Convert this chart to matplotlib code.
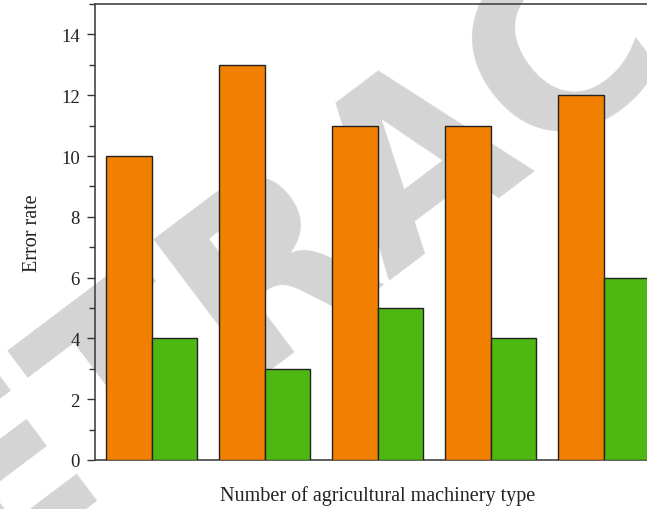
import matplotlib
matplotlib.use("Agg")
import matplotlib.pyplot as plt
import numpy as np
from matplotlib.ticker import MultipleLocator

plt.rcParams["font.family"] = ["Liberation Serif", "DejaVu Serif"]

types = [1, 2, 3, 4, 5]
series_a = [10, 13, 11, 11, 12]   # orange
series_b = [4, 3, 5, 4, 6]        # green

ORANGE = "#F28000"
GREEN = "#4DB812"

fig = plt.figure(figsize=(6.47, 5.10), dpi=100)

# watermark behind the axes
fig.text(0.65, 0.69, "RETRACTED", fontsize=172, fontweight="bold",
         family="DejaVu Sans", color="#d4d4d4", rotation=37,
         ha="center", va="center", zorder=-5)

ax = fig.add_axes([95/647, 49/510, 565/647, 456/510], zorder=1)
ax.patch.set_alpha(0)

x = np.array(types)
w = 0.4
ax.bar(x - w/2, series_a, width=w, color=ORANGE, edgecolor="#222222", linewidth=1.0, zorder=3)
ax.bar(x + w/2, series_b, width=w, color=GREEN, edgecolor="#222222", linewidth=1.0, zorder=3)

ax.set_xlim(0.5, 5.5)
ax.set_ylim(0, 15)
ax.yaxis.set_major_locator(MultipleLocator(2))
ax.yaxis.set_minor_locator(MultipleLocator(1))
ax.set_xticks([])
ax.tick_params(axis="y", which="major", direction="out", length=6, width=1, colors="#333333",
               labelsize=13.5, labelcolor="#222222", pad=5)
ax.tick_params(axis="y", which="minor", direction="out", length=4, width=1, colors="#333333")

for s in ["left", "bottom", "top"]:
    ax.spines[s].set_color("#444444")
    ax.spines[s].set_linewidth(1.2)
ax.spines["right"].set_visible(False)

ax.set_ylabel("Error rate", fontsize=14.5, color="#222222", labelpad=14)
ax.set_xlabel("Number of agricultural machinery type", fontsize=14.5, color="#222222", labelpad=18)

fig.savefig("out.png", dpi=100)
